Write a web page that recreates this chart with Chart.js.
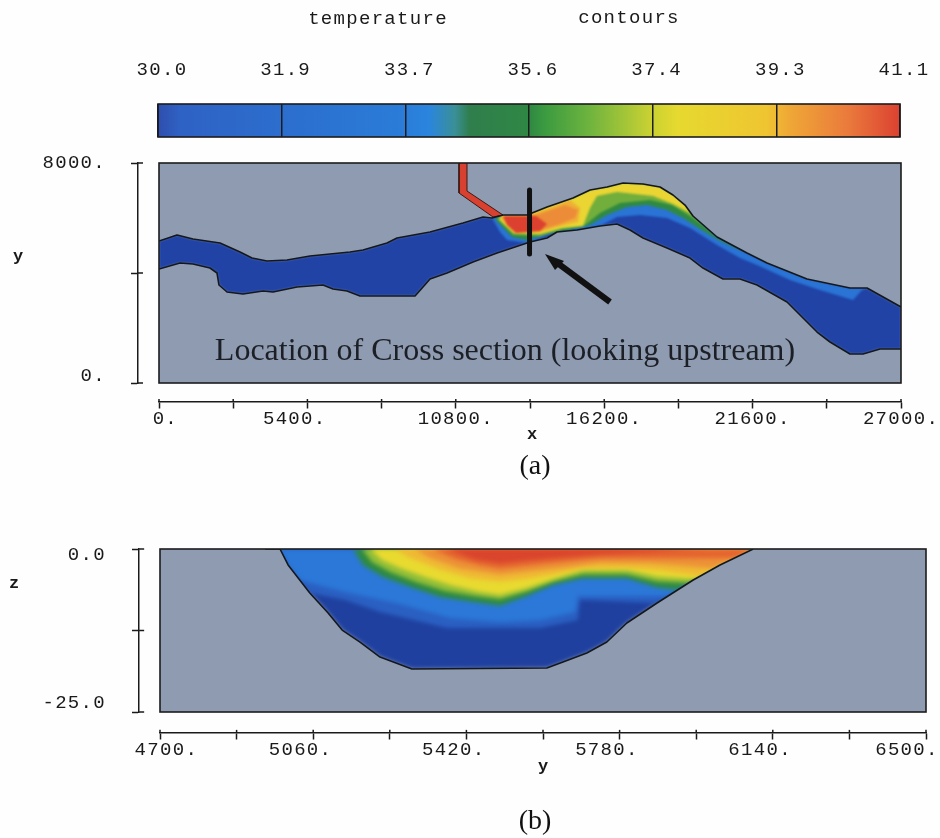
<!DOCTYPE html>
<html>
<head>
<meta charset="utf-8">
<script src="https://cdn.jsdelivr.net/npm/chart.js@4"></script>
<style>
html,body{margin:0;padding:0;background:#fefefe;width:940px;height:838px;overflow:hidden;position:relative}
canvas{position:absolute;left:0}
</style>
</head>
<body>
<canvas id="bar" width="1000" height="150" style="top:0"></canvas>
<canvas id="plan" width="1000" height="380" style="top:100px"></canvas>
<canvas id="section" width="1000" height="348" style="top:490px"></canvas>
<script>
// ---- colour bar ----
const barTickValues = [30, 31.85, 33.7, 35.55, 37.4, 39.25, 41.1];
const barTickLabels = ['30.0','31.9','33.7','35.6','37.4','39.3','41.1'];
const barStops = [0,0.03,0.33,0.365,0.40,0.42,0.50,0.52,0.58,0.66,0.70,0.82,0.85,0.93,1];
const barColors = ['#2f4eae','#2e62c4','#2a7cd8','#2a85de','#3a8f98','#2f7e4c','#2f8744','#3a9a40','#6db33f','#c5d033','#e6d92f','#efc531','#efa836','#ea7a3c','#dc4131'];

// ---- plan view (x, y) ----
const planXTicks = [0,2700,5400,8100,10800,13500,16200,18900,21600,24300,27000];
const planXLabels = [' 0.','','5400.  ','','10800.','','16200.','','21600.','','27000.'];
const planYTicks = [0,4000,8000];
const planYLabels = ['0.','','8000.'];
const riverUpper = [[0,5163],[655,5381],[1237,5236],[2220,5090],[2948,4763],[3384,4545],[3930,4436],[4658,4472],[5495,4618],[6950,4763],[7424,4836],[8297,5090],[8661,5272],[9862,5490],[11063,5818],[11790,6036],[12118,5999],[12518,6108],[13392,6108],[14119,6399],[15065,6727],[15684,7017],[16303,7127],[16885,7272],[17613,7236],[18231,7127],[18704,6836],[19141,6472],[19432,6072],[20306,5309],[21397,4727],[22125,4363],[23581,3781],[25145,3454],[25764,3454],[27000,2763]];
const riverLower = [[0,4145],[764,4363],[1237,4327],[1856,4181],[2111,4000],[2183,3563],[2475,3309],[3057,3236],[3785,3345],[4148,3309],[5022,3491],[5968,3563],[6332,3418],[6841,3345],[7314,3163],[9316,3163],[9607,3491],[9862,3781],[10480,4000],[11426,4400],[12300,4727],[12846,4909],[13501,5127],[14119,5272],[14483,5490],[15211,5563],[16048,5709],[16667,5781],[17140,5563],[17613,5272],[18486,4909],[19323,4545],[19796,4181],[20524,3781],[21143,3781],[21761,3563],[22853,2945],[23945,1854],[24418,1491],[25145,1054],[25619,1054],[26237,1236],[27000,1236]];
const planBlueEdge = [[12118,5999],[12409,5490],[12664,5199],[13392,5090],[14337,5454],[15211,5563],[16048,5709],[16667,6036],[17503,6108],[18486,5999],[19323,5636],[20306,5018],[21143,4545],[21761,4291],[22962,3745],[24054,3381],[25254,3018],[25582,3381],[25764,3454]];
const planGreenEdge = [[12227,5963],[12846,5309],[13392,5200],[14228,5454],[15065,5599],[15684,5745],[16303,6108],[17031,6399],[17758,6472],[18486,6290],[19068,5999],[19796,5527],[20415,5163],[20961,4909],[21397,4727]];
const planLimeEdge = [[12300,5963],[12882,5381],[13865,5345],[14665,5599],[15502,5745],[16048,6181],[16776,6545],[17867,6654],[18668,6472],[19323,6072],[19869,5672],[20306,5309]];
const planYellowEdge = [[12373,5963],[12918,5454],[13865,5418],[14665,5636],[15429,5709],[15684,6363],[15938,6799],[16667,6945],[17976,6799],[18704,6508],[19323,6181],[19432,6072]];
const planAmberPatch = [[12445,5963],[12918,5490],[13865,5490],[14592,5709],[15247,5854],[15320,6363],[14956,6654],[14119,6327],[13392,6072],[12518,6072]];
const planOrangePatch = [[12518,6036],[12991,5527],[13865,5563],[14592,5781],[15138,5999],[15247,6290],[14774,6472],[14047,6217],[13501,6036]];
const planRedPatch = [[12518,6072],[13719,6072],[14119,5781],[13865,5527],[12991,5454],[12664,5745]];
const channel = [[10917,8000],[10917,6908],[12154,6036],[12518,6108],[11208,6981],[11208,8000]];
const sectionBar = [[13483,7018],[13483,4690]];
const arrowShaft = [[16412,2945],[14447,4400]];
const arrowHead = [[14047,4690],[14410,4109],[14738,4436]];

// ---- cross section (y, z) ----
const secXTicks = [4700,4880,5060,5240,5420,5600,5780,5960,6140,6320,6500];
const secXLabels = [' 4700.','','5060.  ','','5420.  ','','5780.  ','','6140.  ','','6500.   '];
const secYTicks = [-25,-12.5,0];
const secYLabels = ['-25.0','','0.0'];
const channelBed = [[4947,0],[4982,0],[5001,-2.45],[5052,-6.75],[5095,-9.82],[5128,-12.43],[5170,-14.27],[5217,-16.57],[5292,-18.41],[5609,-18.25],[5647,-17.33],[5703,-15.95],[5750,-14.27],[5797,-11.35],[5868,-8.28],[5953,-4.76],[6016,-2.45],[6094,0]];
const iso0 = [[5052,-6.75],[5135,-7.82],[5217,-9.66],[5375,-12.12],[5593,-12.12],[5682,-10.89],[5687,-7.82],[5868,-8.28]];
const iso1 = [[5029,-4.76],[5135,-6.6],[5264,-8.44],[5382,-10.58],[5499,-11.2],[5593,-10.89],[5675,-9.66],[5682,-7.21],[5781,-7.21],[5894,-7.21]];
const iso2 = [[5154,0],[5177,-2.45],[5224,-4.3],[5288,-5.83],[5358,-7.36],[5436,-8.13],[5499,-8.7],[5562,-7.2],[5624,-5.5],[5694,-4.5],[5797,-4.5],[5868,-5.9],[5915,-6.29]];
const iso3 = [[5175,0],[5198,-1.99],[5241,-3.53],[5302,-5.06],[5370,-6.44],[5440,-7.21],[5499,-7.7],[5562,-6.5],[5624,-5],[5694,-3.9],[5797,-3.9],[5868,-5],[5941,-5.22]];
const iso4 = [[5194,0],[5222,-1.69],[5264,-2.91],[5323,-4.3],[5382,-5.52],[5447,-6.5],[5499,-7],[5562,-6],[5624,-4.6],[5694,-3.2],[5797,-3.2],[5868,-4.2],[5957,-4.6]];
const iso5 = [[5252,0],[5288,-1.38],[5358,-3.2],[5429,-4.5],[5499,-5],[5562,-4.6],[5624,-3.9],[5694,-3],[5797,-2.9],[5875,-3.3],[5969,-4.14]];
const iso6 = [[5299,0],[5335,-1.38],[5405,-3],[5499,-3.9],[5570,-3.4],[5640,-2.9],[5734,-2.1],[5852,-2.2],[5997,-2.91]];
const iso7 = [[5340,0],[5393,-1.5],[5452,-2.5],[5499,-3],[5570,-2.5],[5640,-2],[5734,-1.4],[5852,-1.4],[6051,-1.38]];
const iso8 = [[5374,0],[5440,-1.6],[5499,-2.2],[5570,-1.7],[5640,-1.3],[5734,-0.8],[5852,-0.5],[5980,0]];

const INK='#1a1a1a', GROUND='#8e9bb1', MONO="'Liberation Mono'", SERIF="'Liberation Serif'", TICK=19;
const toPts = a => a.map(p => ({x:p[0], y:p[1]}));

function closeAlongUpper(edge){
  const s=edge[0][0], e=edge[edge.length-1][0];
  const back=riverUpper.filter(p=>p[0]>s&&p[0]<e).reverse();
  return edge.concat(back);
}
function closeAlongBed(edge){
  const s=edge[0], e=edge[edge.length-1];
  const right=channelBed.filter(p=>p[0]>e[0]);
  const left=s[1]<0?channelBed.filter(p=>p[0]<s[0]):[];
  return edge.concat(right,left);
}
function layers(list){
  return list.map((l,i)=>({
    data:toPts(l.pts), showLine:true, pointRadius:0, tension:0, order:100-i, soft:!!l.soft,
    fill:l.fill===false?false:'shape',
    backgroundColor:l.color||'transparent',
    borderColor:l.line||'transparent',
    borderWidth:l.width||0, borderJoinStyle:'round'
  }));
}
const frame={id:'frame',
  beforeDraw(c,a,o){
    c.ctx.letterSpacing='1.3px';
    const r=c.chartArea;
    if(o.fill){c.ctx.save();c.ctx.fillStyle=o.fill;c.ctx.fillRect(r.left,r.top,r.width,r.height);c.ctx.restore();}
  },
  // filler runs first in each dataset hook, so the blur only touches the fills
  beforeDatasetsDraw(c,a,o){ if(o.blur&&c.data.datasets[0].soft) c.ctx.filter=`blur(${o.blur}px)`; },
  beforeDatasetDraw(c,a,o){ if(o.blur) c.ctx.filter='none'; },
  afterDatasetDraw(c,a,o){
    const next=c.data.datasets[a.index+1];
    if(o.blur&&next&&next.soft) c.ctx.filter=`blur(${o.blur}px)`;
  },
  afterDraw(c,a,o){
    const ctx=c.ctx,r=c.chartArea;
    ctx.save();
    ctx.filter='none';
    if(o.stroke){ctx.strokeStyle='#1c1c1c';ctx.lineWidth=1.6;ctx.strokeRect(r.left,r.top,r.width,r.height);}
    ctx.strokeStyle=INK;ctx.lineWidth=1.5;
    (o.cross||[]).forEach(k=>{
      const s=c.scales[k.id];
      s.ticks.forEach(t=>{
        const p=s.getPixelForValue(t.value);
        ctx.beginPath();
        if(s.isHorizontal()){const y=c.scales.y.getPixelForValue(s.options.position.y);ctx.moveTo(p,y);ctx.lineTo(p,y-k.inner);}
        else{const x=c.scales.x.getPixelForValue(s.options.position.x);ctx.moveTo(x,p);ctx.lineTo(x+k.inner,p);}
        ctx.stroke();
      });
    });
    (o.texts||[]).forEach(t=>{
      ctx.font=t.font;ctx.fillStyle=t.color||INK;ctx.textAlign='center';ctx.textBaseline='middle';
      ctx.letterSpacing=t.spacing||'0px';
      ctx.fillText(t.text,t.x,t.y);
    });
    ctx.restore();
  }};
// one scale carries the axis line and tick marks, a twin carries the labels, which sit off the ticks in the original
function axes(xo,yo){
  const line=(vals,pos,min,max,tl)=>({type:'linear',min,max,position:pos,
    afterBuildTicks:s=>{s.ticks=vals.map(v=>({value:v}));},
    grid:{drawOnChartArea:false,drawTicks:true,tickLength:tl,color:INK,tickWidth:1.5},
    border:{display:true,color:INK,width:1.5},
    ticks:{display:false,autoSkip:false}});
  const text=(vals,labs,pos,min,max,pad,axis)=>({type:'linear',axis,min,max,position:pos,
    afterBuildTicks:s=>{s.ticks=vals.map(v=>({value:v}));},
    grid:{display:false,tickLength:0},border:{display:false},
    ticks:{autoSkip:false,maxRotation:0,padding:pad,color:INK,font:{family:MONO,size:TICK},
      callback:v=>labs[vals.indexOf(v)]}});
  return {
    x:line(xo.vals,{y:xo.at},xo.min,xo.max,xo.tl),
    y:line(yo.vals,{x:yo.at},yo.min,yo.max,yo.tl),
    xl:text(xo.vals,xo.labs,{y:xo.at},xo.min,xo.max,xo.pad,'x'),
    yl:text(yo.vals,yo.labs,{x:yo.labelAt},yo.labelMin,yo.labelMax,0,'y')
  };
}
const base={responsive:false,animation:false,devicePixelRatio:1};

// colour bar chart
new Chart(document.getElementById('bar'),{
  type:'bar',
  data:{labels:['temperature'],datasets:[{
    data:[[barTickValues[0],barTickValues[6]]],
    barPercentage:1,categoryPercentage:1,borderWidth:0,
    backgroundColor(ctx){
      const a=ctx.chart.chartArea; if(!a) return barColors[0];
      const g=ctx.chart.ctx.createLinearGradient(a.left,0,a.right,0);
      barStops.forEach((s,i)=>g.addColorStop(s,barColors[i]));
      return g;
    }}]},
  options:{...base,indexAxis:'y',
    layout:{padding:{top:51,left:158,right:100,bottom:13}},
    scales:{
      y:{display:false},
      x:{type:'linear',position:'top',min:30,max:41.1,
        afterBuildTicks:s=>{s.ticks=barTickValues.map(v=>({value:v}));},
        afterFit:s=>{s.height+=10;},
        grid:{z:1,color:'#1c1c1c',lineWidth:1.5,drawTicks:false},
        border:{display:false},
        ticks:{autoSkip:false,maxRotation:0,padding:23,labelOffset:4,color:INK,font:{family:MONO,size:TICK},
          callback:v=>barTickLabels[barTickValues.indexOf(v)]}
      }},
    plugins:{legend:{display:false},tooltip:{enabled:false},
      frame:{stroke:true,texts:[
        {text:'temperature',x:378,y:19,font:`${TICK}px ${MONO}`,spacing:'1.3px'},
        {text:'contours',x:629,y:18,font:`${TICK}px ${MONO}`,spacing:'1.3px'}]}}
  },plugins:[frame]});

// plan view
const riverPoly=riverUpper.concat(riverLower.slice().reverse());
const planR=planXTicks[planXTicks.length-1], planT=planYTicks[2];
new Chart(document.getElementById('plan'),{
  type:'scatter',
  data:{datasets:layers([
    {pts:riverPoly,color:'#2143a6',soft:true},
    {pts:closeAlongUpper(planBlueEdge),color:'#2a74d6',soft:true},
    {pts:closeAlongUpper(planGreenEdge),color:'#2f8a42',soft:true},
    {pts:closeAlongUpper(planLimeEdge),color:'#72ae3c',soft:true},
    {pts:closeAlongUpper(planYellowEdge),color:'#ead533',soft:true},
    {pts:planAmberPatch,color:'#efaf35',soft:true},
    {pts:planOrangePatch,color:'#ec8c38',soft:true},
    {pts:planRedPatch,color:'#dc412f',soft:true},
    {pts:riverUpper.concat([[planR,planT],[0,planT]]),color:GROUND},
    {pts:riverLower.concat([[planR,0],[0,0]]),color:GROUND},
    {pts:channel,color:'#d8402f',line:'#3a1a14',width:1},
    {pts:riverUpper,fill:false,line:'#14181c',width:1.6},
    {pts:riverLower,fill:false,line:'#14181c',width:1.6},
    {pts:sectionBar,fill:false,line:'#111',width:5},
    {pts:arrowShaft,fill:false,line:'#111',width:6},
    {pts:arrowHead,color:'#111'}
  ])},
  options:{...base,
    layout:{padding:{top:63,left:159,right:99,bottom:97}},
    scales:axes(
      {vals:planXTicks,labs:planXLabels,at:-690,min:0,max:27000,pad:6,tl:6},
      {vals:planYTicks,labs:planYLabels,at:-764,min:0,max:8000,tl:6,labelAt:-1929,labelMin:-263,labelMax:8000}),
    plugins:{legend:{display:false},tooltip:{enabled:false},
      frame:{fill:GROUND,blur:0.8,stroke:true,cross:[{id:'x',inner:3},{id:'y',inner:5}],texts:[
        {text:'y',x:18,y:157,font:`bold 17px ${MONO}`},
        {text:'x',x:532,y:335,font:`bold 17px ${MONO}`},
        {text:'Location of Cross section (looking upstream)',x:505,y:252,font:`32px ${SERIF}`,color:'#1c2026'},
        {text:'(a)',x:535,y:367,font:`28px ${SERIF}`,color:'#111'}]}}
  },plugins:[frame]});

// cross section
const secL=secXTicks[0], secR=secXTicks[secXTicks.length-1], secB=secYTicks[0];
new Chart(document.getElementById('section'),{
  type:'scatter',
  data:{datasets:layers([
    {pts:channelBed,color:'#1f409f',soft:true},
    {pts:closeAlongBed(iso0),color:'#2a60c2',soft:true},
    {pts:closeAlongBed(iso1),color:'#2b78d8',soft:true},
    {pts:closeAlongBed(iso2),color:'#2e8a42',soft:true},
    {pts:closeAlongBed(iso3),color:'#93bf38',soft:true},
    {pts:closeAlongBed(iso4),color:'#e9da30',soft:true},
    {pts:closeAlongBed(iso5),color:'#efb934',soft:true},
    {pts:closeAlongBed(iso6),color:'#ec9137',soft:true},
    {pts:closeAlongBed(iso7),color:'#e56530',soft:true},
    {pts:iso8,color:'#d9452d',soft:true},
    {pts:[[secL,0]].concat(channelBed,[[secR,0],[secR,secB],[secL,secB]]),color:GROUND},
    {pts:channelBed,fill:false,line:'#14181c',width:1.6}
  ])},
  options:{...base,
    layout:{padding:{top:59,left:160,right:74,bottom:126}},
    scales:axes(
      {vals:secXTicks,labs:secXLabels,at:-28.2,min:4700,max:6500,pad:6,tl:6},
      {vals:secYTicks,labs:secYLabels,at:4651,min:-25,max:0,tl:6,labelAt:4573,labelMin:-26.52,labelMax:1.01}),
    plugins:{legend:{display:false},tooltip:{enabled:false},
      frame:{fill:GROUND,blur:2.2,stroke:true,cross:[{id:'x',inner:3},{id:'y',inner:5}],texts:[
        {text:'z',x:14,y:94,font:`bold 17px ${MONO}`},
        {text:'y',x:543,y:277,font:`bold 17px ${MONO}`},
        {text:'(b)',x:535,y:332,font:`28px ${SERIF}`,color:'#111'}]}}
  },plugins:[frame]});
</script>
</body>
</html>
